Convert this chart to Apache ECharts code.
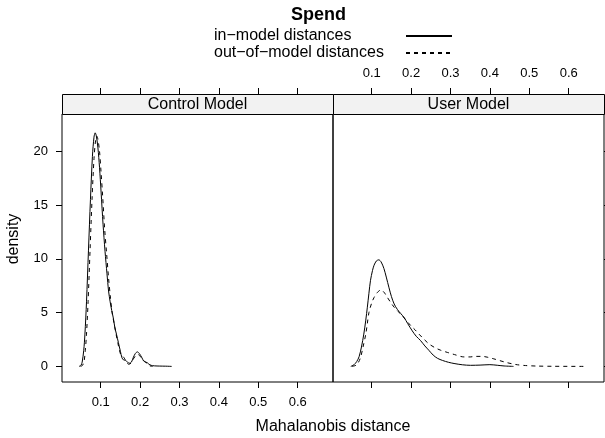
<!DOCTYPE html>
<html>
<head>
<meta charset="UTF-8">
<script src="https://cdn.jsdelivr.net/npm/echarts@6/dist/echarts.min.js"></script>
</head>
<body style="margin: 0">
<div id="main" style="width: 605px; height: 438px;"></div>
<script type="text/javascript">
// tick positions and labels
var xTicks = [0.1, 0.2, 0.3, 0.4, 0.5, 0.6];
var yTicks = [0, 5, 10, 15, 20];
var panels = ['Control Model', 'User Model'];
var seriesNames = ['in\u2212model distances', 'out\u2212of\u2212model distances'];

// density curves: [distance, density]
var controlIn = [[0.045,0],[0.05,0.1],[0.053,0.4],[0.057,1.5],[0.060,3.0],[0.064,6.0],[0.069,10.8],[0.074,15.5],[0.079,19.5],[0.083,21.3],[0.086,21.7],[0.089,21.4],[0.093,20.3],[0.097,18.5],[0.101,16.2],[0.106,13.2],[0.111,10.7],[0.116,8.6],[0.12,7.0],[0.124,6.0],[0.128,5.2],[0.132,4.5],[0.136,3.6],[0.14,3.0],[0.145,2.2],[0.15,1.4],[0.154,0.8],[0.158,0.6],[0.163,0.55],[0.168,0.4],[0.173,0.3],[0.178,0.4],[0.183,0.85],[0.188,1.2],[0.193,1.35],[0.198,1.2],[0.204,0.85],[0.209,0.5],[0.214,0.4],[0.218,0.35],[0.222,0.22],[0.228,0.1],[0.236,0.05],[0.25,0.03],[0.265,0.02],[0.28,0]];
var controlOut = [[0.049,0],[0.054,0.1],[0.058,0.5],[0.061,1.5],[0.064,3.0],[0.068,6.0],[0.073,10.8],[0.078,15.5],[0.083,19.3],[0.087,21.0],[0.09,21.4],[0.093,21.1],[0.097,20.0],[0.101,18.0],[0.105,15.8],[0.11,12.8],[0.115,10.5],[0.12,8.2],[0.125,6.3],[0.129,5.0],[0.134,4.0],[0.139,3.0],[0.144,2.1],[0.149,1.3],[0.153,0.95],[0.157,0.9],[0.161,0.7],[0.166,0.35],[0.171,0.2],[0.177,0.3],[0.183,0.7],[0.189,1.0],[0.195,1.1],[0.201,0.9],[0.207,0.6],[0.212,0.45],[0.217,0.3],[0.222,0.1],[0.228,0.02],[0.232,0]];
var userIn = [[0.047,0],[0.055,0.15],[0.062,0.45],[0.068,0.9],[0.074,1.8],[0.080,3.0],[0.085,4.3],[0.089,5.5],[0.093,6.8],[0.097,8.0],[0.102,8.9],[0.106,9.4],[0.112,9.8],[0.118,9.9],[0.124,9.7],[0.131,9.1],[0.137,8.3],[0.144,7.3],[0.150,6.5],[0.157,5.8],[0.165,5.3],[0.174,4.9],[0.183,4.5],[0.191,4.0],[0.203,3.3],[0.213,2.8],[0.224,2.4],[0.235,1.9],[0.245,1.5],[0.256,1.05],[0.267,0.75],[0.28,0.55],[0.295,0.38],[0.309,0.27],[0.33,0.15],[0.351,0.1],[0.375,0.12],[0.40,0.16],[0.42,0.1],[0.436,0.04],[0.46,0]];
var userOut = [[0.05,0],[0.06,0.1],[0.066,0.35],[0.072,0.86],[0.078,1.8],[0.085,3.0],[0.089,4.0],[0.093,5.0],[0.1,5.9],[0.106,6.4],[0.114,6.85],[0.123,7.1],[0.131,6.9],[0.14,6.4],[0.148,5.95],[0.157,5.5],[0.167,5.1],[0.178,4.7],[0.188,4.25],[0.199,3.8],[0.21,3.4],[0.22,3.0],[0.232,2.55],[0.245,2.1],[0.26,1.75],[0.275,1.5],[0.292,1.3],[0.31,1.1],[0.334,0.88],[0.35,0.88],[0.364,0.93],[0.38,0.93],[0.393,0.86],[0.41,0.7],[0.436,0.42],[0.455,0.25],[0.47,0.15],[0.49,0.08],[0.52,0.03],[0.56,0.01],[0.64,0]];

var font = 'Liberation Sans, Arial, Helvetica, sans-serif';
var myChart = echarts.init(document.getElementById('main'));

var xRange = { min: 0.0018, max: 0.6896 };
var yRange = { min: -1.45, max: 23.45 };

function grid(left, top, width, height, border) {
    return { left: left, top: top, width: width, height: height, show: border, borderColor: '#000', borderWidth: 1, outerBoundsMode: 'none' };
}
// axis that only carries the tick labels
function labelAxis(g, pos, range, ticks) {
    return {
        type: 'value', gridIndex: g, position: pos, offset: pos === 'top' ? 20 : 0,
        min: range.min, max: range.max,
        axisLine: { show: false, onZero: false }, splitLine: { show: false },
        axisTick: { show: false, customValues: ticks },
        axisLabel: { show: true, customValues: ticks, margin: 14, fontSize: 13, color: '#000', fontFamily: font }
    };
}
// axis on a thin strip grid whose split lines draw the outward tick marks
function tickAxis(g, range, ticks) {
    return {
        type: 'value', gridIndex: g, min: range.min, max: range.max,
        axisLine: { show: false, onZero: false }, axisLabel: { show: false },
        axisTick: { show: false, customValues: ticks },
        splitLine: { show: true, lineStyle: { color: '#000', width: 1 } }
    };
}
function hiddenAxis(g, range) {
    return { type: 'value', gridIndex: g, show: false, min: range.min, max: range.max };
}
function line(name, idx, data, dashed) {
    return {
        type: 'line', name: name, xAxisIndex: idx, yAxisIndex: idx,
        data: data, symbol: 'none', smooth: 0.3,
        lineStyle: { color: '#000', width: 1, type: dashed ? [4, 4] : 'solid' },
        itemStyle: { color: '#000' }
    };
}

var option = {
    animation: false,
    title: {
        text: 'Spend', left: 318.5, top: 6, textAlign: 'center', padding: 0,
        textStyle: { fontSize: 18, fontWeight: 'bold', color: '#000', fontFamily: font }
    },
    legend: {
        data: seriesNames, orient: 'vertical', left: 214, top: 28, padding: 0,
        align: 'right', itemWidth: 46, itemHeight: 13, itemGap: 1,
        itemStyle: { opacity: 0 },
        formatter: function (name) { return '{t|' + name + '}'; },
        textStyle: {
            color: '#000', fontSize: 16, fontFamily: font,
            rich: { t: { width: 187, align: 'left', fontSize: 16, lineHeight: 16, fontFamily: font, color: '#000' } }
        }
    },
    grid: [
        grid(62, 114, 271, 268, true),   // 0 control panel
        grid(333, 114, 271, 268, true),  // 1 user panel
        grid(62, 382, 271, 6, false),    // 2 ticks below control
        grid(62, 88, 271, 6, false),     // 3 ticks above control strip
        grid(333, 88, 271, 6, false),    // 4 ticks above user strip
        grid(333, 382, 271, 6, false),   // 5 ticks below user
        grid(56, 114, 6, 268, false),    // 6 ticks left of control
        grid(604, 114, 6, 268, false)    // 7 ticks right of user
    ],
    xAxis: [
        labelAxis(0, 'bottom', xRange, xTicks),
        labelAxis(1, 'top', xRange, xTicks),
        tickAxis(2, xRange, xTicks),
        tickAxis(3, xRange, xTicks),
        tickAxis(4, xRange, xTicks),
        tickAxis(5, xRange, xTicks),
        hiddenAxis(6, xRange),
        hiddenAxis(7, xRange)
    ],
    yAxis: [
        labelAxis(0, 'left', yRange, yTicks),
        hiddenAxis(1, yRange),
        hiddenAxis(2, yRange),
        hiddenAxis(3, yRange),
        hiddenAxis(4, yRange),
        hiddenAxis(5, yRange),
        tickAxis(6, yRange, yTicks),
        tickAxis(7, yRange, yTicks)
    ],
    graphic: [
        { type: 'rect', shape: { x: 62.5, y: 94.5, width: 271, height: 20 }, style: { fill: '#f2f2f2', stroke: '#000', lineWidth: 1 } },
        { type: 'rect', shape: { x: 333.5, y: 94.5, width: 271, height: 20 }, style: { fill: '#f2f2f2', stroke: '#000', lineWidth: 1 } },
        { type: 'text', x: 197.5, y: 104.5, style: { text: panels[0], font: '16px ' + font, fill: '#000', align: 'center', verticalAlign: 'middle' } },
        { type: 'text', x: 468.5, y: 104.5, style: { text: panels[1], font: '16px ' + font, fill: '#000', align: 'center', verticalAlign: 'middle' } },
        { type: 'text', x: 333, y: 427, style: { text: 'Mahalanobis distance', font: '16px ' + font, fill: '#000', align: 'center', verticalAlign: 'middle' } },
        { type: 'text', x: 14, y: 239, rotation: Math.PI / 2, style: { text: 'density', font: '16px ' + font, fill: '#000', align: 'center', verticalAlign: 'middle' } }
    ],
    series: [
        line(seriesNames[0], 0, controlIn, false),
        line(seriesNames[1], 0, controlOut, true),
        line(seriesNames[0], 1, userIn, false),
        line(seriesNames[1], 1, userOut, true)
    ]
};

myChart.setOption(option);
</script>
</body>
</html>
